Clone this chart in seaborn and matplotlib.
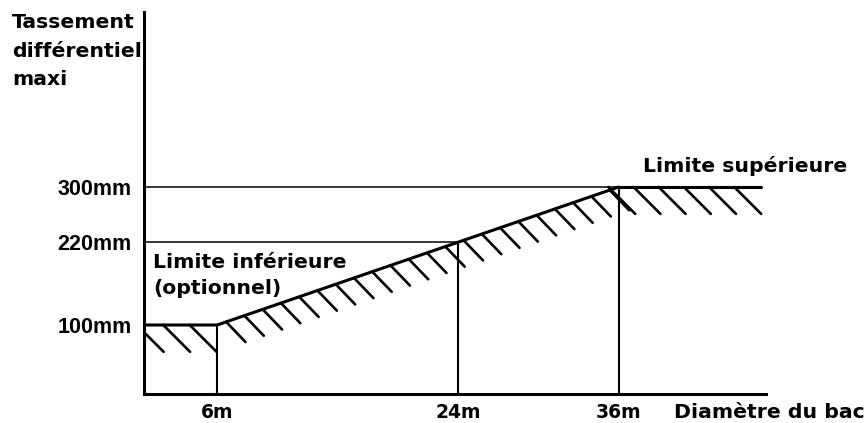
import matplotlib
matplotlib.use('Agg')
import matplotlib.pyplot as plt
import matplotlib.patheffects as pe
import seaborn as sns

# ---- data ----
diam_marks = [6, 24, 36]
diam_labels = ['6m', '24m', '36m']
tass_marks = [100, 220, 300]
tass_labels = ['100mm', '220mm', '300mm']

# limit lines (Diamètre du bac [m] -> Tassement différentiel maxi [mm])
lower_x = [0, 6, 24, 36]
lower_y = [100, 100, 220, 300]
upper_x = [36, 46.6]
upper_y = [300, 300]

# reference horizontal lines
ref220_x = [0, 24]
ref220_y = [220, 220]
ref300_x = [0, 46.6]
ref300_y = [300, 300]

# hatched extents under the limits
hatch_left_x = [-0.9, 4.85]
hatch_left_y = [100, 100]
hatch_slope_x = [6, 36]
hatch_slope_y = [100, 300]
hatch_right_x = [34.4, 45.45]
hatch_right_y = [300, 300]

sns.set_style('white')
plt.rcParams['font.family'] = ['DejaVu Sans']

fig = plt.figure(figsize=(8.66, 4.23), dpi=100)
ax = fig.add_axes([143.5 / 866, 29 / 423, 622.5 / 866, 382 / 423])

# thin reference lines
sns.lineplot(x=ref300_x, y=ref300_y, color='black', lw=1.1, ax=ax)
sns.lineplot(x=ref220_x, y=ref220_y, color='black', lw=1.1, ax=ax)
ax.vlines(diam_marks, 0, tass_marks, color='black', lw=1.5)

# limit lines
sns.lineplot(x=lower_x, y=lower_y, color='black', lw=2.2, ax=ax, sort=False)
sns.lineplot(x=upper_x, y=upper_y, color='black', lw=2.2, ax=ax)

# hatching (ticks only)
sns.lineplot(x=hatch_left_x, y=hatch_left_y, color='black', lw=1.9, ax=ax,
             path_effects=[pe.TickedStroke(angle=-45, spacing=17.3, length=1.58)])
sns.lineplot(x=hatch_slope_x, y=hatch_slope_y, color='black', lw=1.9, ax=ax,
             path_effects=[pe.TickedStroke(angle=-65, spacing=13.7, length=1.47)])
sns.lineplot(x=hatch_right_x, y=hatch_right_y, color='black', lw=1.9, ax=ax,
             path_effects=[pe.TickedStroke(angle=-45, spacing=15.84, length=1.73)])

ax.set_xlim(0.5, 47)
ax.set_ylim(0, 553.6)

sns.despine(ax=ax)
for s in ['left', 'bottom']:
    ax.spines[s].set_linewidth(2.2)
    ax.spines[s].set_color('black')

ax.set_xticks(diam_marks)
ax.set_xticklabels(diam_labels, fontsize=13.5, fontweight='bold', family='DejaVu Sans')
ax.set_yticks(tass_marks)
ax.set_yticklabels(tass_labels, fontsize=15.5, fontweight='bold', family='Liberation Sans')
ax.tick_params(axis='both', length=0, colors='black')
ax.tick_params(axis='x', pad=6.5)
ax.tick_params(axis='y', pad=8.3)
ax.set_xlabel('')
ax.set_ylabel('')

tfont = dict(fontsize=14.7, fontweight='bold', color='black', family='DejaVu Sans')
ax.text(37.8, 321.7, 'Limite supérieure', ha='left', va='baseline', **tfont)
ax.text(1.2, 182.6, 'Limite inférieure', ha='left', va='baseline', **tfont)
ax.text(1.2, 145, '(optionnel)', ha='left', va='baseline', **tfont)

fig.text(12 / 866, 1 - 28 / 423, 'Tassement', ha='left', va='baseline', **tfont)
fig.text(12 / 866, 1 - 57 / 423, 'différentiel', ha='left', va='baseline', **tfont)
fig.text(12 / 866, 1 - 85 / 423, 'maxi', ha='left', va='baseline', **tfont)
fig.text(674 / 866, 1 - 418 / 423, 'Diamètre du bac', ha='left', va='baseline', **tfont)

fig.savefig('out.png', dpi=100, facecolor='white')
